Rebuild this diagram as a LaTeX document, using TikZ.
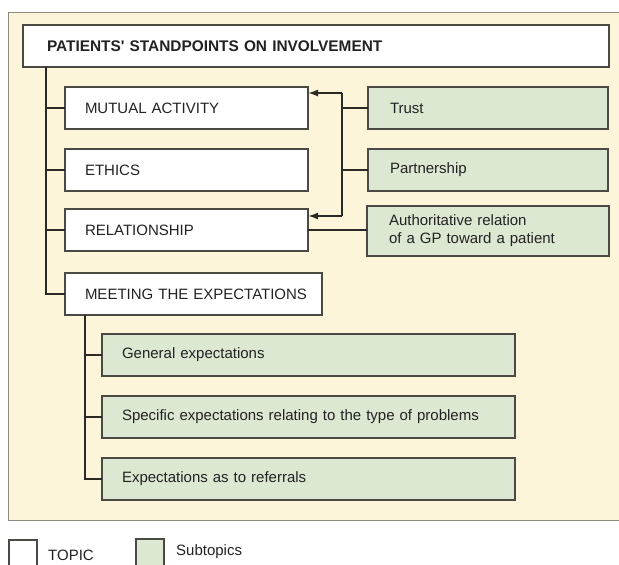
\documentclass[tikz,border=0pt]{standalone}
\usepackage{fontspec}
\setmainfont{Liberation Sans}
\usetikzlibrary{arrows.meta,positioning,calc}
\definecolor{panelfill}{HTML}{FCF5DA}
\definecolor{panelline}{HTML}{8C8A80}
\definecolor{greenfill}{HTML}{DCE8D2}
\definecolor{boxline}{HTML}{4A4944}
\definecolor{conn}{HTML}{2A2926}
\definecolor{txt}{HTML}{222222}
\begin{document}
\begin{tikzpicture}[x=1pt,y=-1pt,
  font=\fontsize{15}{18}\selectfont,
  boxbase/.style={draw=boxline, line width=1.1pt, anchor=north west, align=left,
    text=txt, inner ysep=0pt, outer sep=0pt},
  topic/.style={boxbase, fill=white},
  subtopic/.style={boxbase, fill=greenfill},
  link/.style={draw=conn, line width=1.7pt},
  arrowlink/.style={link, -{Latex[length=10pt,width=7pt]}},
]
\clip (0,0) rectangle (619,565);
\useasboundingbox (0,0) rectangle (619,565);
% panel
\draw[fill=panelfill, draw=panelline, line width=1pt] (8,12) rectangle (640,520);

% topic boxes
\node[topic, inner xsep=24pt, text width=538pt, minimum height=42pt, font=\fontsize{15.4}{18}\selectfont\bfseries] (title) at (23,25) {PATIENTS\textquotesingle\ STANDPOINTS ON INVOLVEMENT};
\node[topic, inner xsep=20pt, text width=203pt, minimum height=42pt] (mutual) at (65,87) {MUTUAL ACTIVITY};
\node[topic, inner xsep=20pt, text width=203pt, minimum height=42pt] (ethics) at (65,149) {ETHICS};
\node[topic, inner xsep=20pt, text width=203pt, minimum height=42pt] (relation) at (65,209) {RELATIONSHIP};
\node[topic, inner xsep=20pt, text width=217pt, minimum height=42pt] (meeting) at (65,273) {\mbox{MEETING THE EXPECTATIONS}};

% subtopic boxes
\node[subtopic, inner xsep=22pt, text width=196pt, minimum height=42pt] (trust) at (368,87) {Trust};
\node[subtopic, inner xsep=22pt, text width=196pt, minimum height=42pt] (partner) at (368,149) {Partnership};
\node[subtopic, inner xsep=22pt, text width=198pt, minimum height=50pt] (auth) at (367,206) {Authoritative relation\\of a GP toward a patient};
\node[subtopic, inner xsep=20pt, text width=373pt, minimum height=42pt] (general) at (102,334) {General expectations};
\node[subtopic, inner xsep=20pt, text width=373pt, minimum height=42pt] (specific) at (102,396) {Specific expectations relating to the type of problems};
\node[subtopic, inner xsep=20pt, text width=373pt, minimum height=42pt] (referral) at (102,458) {Expectations as to referrals};

% main trunk
\coordinate (trunk) at (46,67);
\draw[link] (trunk) |- (meeting.west);
\draw[link] (mutual.west -| trunk) -- (mutual.west);
\draw[link] (ethics.west -| trunk) -- (ethics.west);
\draw[link] (relation.west -| trunk) -- (relation.west);

% arrows from trust/partnership
\coordinate (atop) at (342,93);
\coordinate (abot) at (342,216);
\draw[link] (atop) -- (abot);
\draw[arrowlink] (atop) -- (atop -| mutual.east);
\draw[arrowlink] (abot) -- (abot -| relation.east);
\draw[link] (trust.west) -- (trust.west -| atop);
\draw[link] (partner.west) -- (partner.west -| atop);
\draw[link] (relation.east) -- (relation.east -| auth.west);

% meeting sub trunk
\coordinate (sub) at (85,315);
\draw[link] (sub) |- (referral.west);
\draw[link] (general.west -| sub) -- (general.west);
\draw[link] (specific.west -| sub) -- (specific.west);

% legend
\node[topic, minimum width=28pt, minimum height=40pt, inner sep=0pt] (legtopic) at (9,540) {};
\node[anchor=west, text=txt, inner sep=0pt] (legtopictxt) at (48,555) {TOPIC};
\node[subtopic, minimum width=28pt, minimum height=40pt, inner sep=0pt] (legsub) at (136,539) {};
\node[anchor=west, text=txt, inner sep=0pt] (legsubtxt) at (176,552) {Subtopics};
\end{tikzpicture}
\end{document}
